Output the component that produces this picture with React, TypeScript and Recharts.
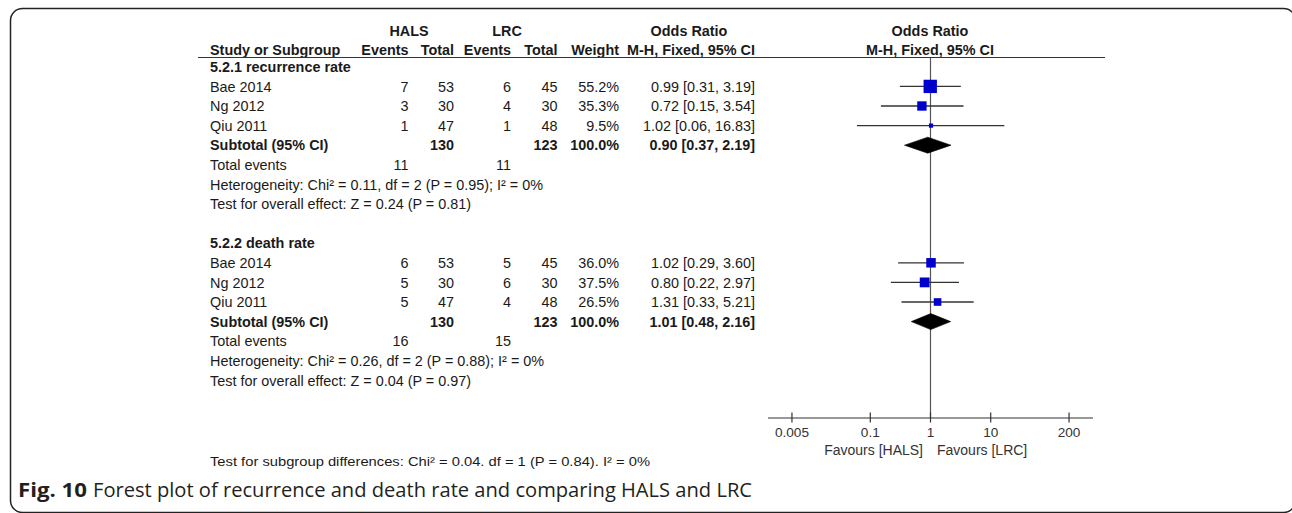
import React from 'react';
import { ComposedChart, Scatter, XAxis, YAxis } from 'recharts';

// study rows (same three studies in both subgroups)
const studyNames = ['Bae 2014', 'Ng 2012', 'Qiu 2011'];
const subgroupTitles = ['5.2.1 recurrence rate', '5.2.2 death rate'];

// 5.2.1 recurrence rate
const recHalsEvents = [7, 3, 1];
const recHalsTotal = [53, 30, 47];
const recLrcEvents = [6, 4, 1];
const recLrcTotal = [45, 30, 48];
const recWeight = [55.2, 35.3, 9.5];
const recOR = [0.99, 0.72, 1.02];
const recLow = [0.31, 0.15, 0.06];
const recHigh = [3.19, 3.54, 16.83];

// 5.2.2 death rate
const deathHalsEvents = [6, 5, 5];
const deathHalsTotal = [53, 30, 47];
const deathLrcEvents = [5, 6, 4];
const deathLrcTotal = [45, 30, 48];
const deathWeight = [36.0, 37.5, 26.5];
const deathOR = [1.02, 0.8, 1.31];
const deathLow = [0.29, 0.22, 0.33];
const deathHigh = [3.6, 2.97, 5.21];

// subtotals, one entry per subgroup
const subtotalHalsTotal = [130, 130];
const subtotalLrcTotal = [123, 123];
const subtotalOR = [0.9, 1.01];
const subtotalLow = [0.37, 0.48];
const subtotalHigh = [2.19, 2.16];
const totalHalsEvents = [11, 16];
const totalLrcEvents = [11, 15];
const heterogeneityText = [
  'Heterogeneity: Chi² = 0.11, df = 2 (P = 0.95); I² = 0%',
  'Heterogeneity: Chi² = 0.26, df = 2 (P = 0.88); I² = 0%',
];
const overallEffectText = [
  'Test for overall effect: Z = 0.24 (P = 0.81)',
  'Test for overall effect: Z = 0.04 (P = 0.97)',
];
const subgroupDiffText = 'Test for subgroup differences: Chi² = 0.04. df = 1 (P = 0.84). I² = 0%';

const axisTicks = [0.005, 0.1, 1, 10, 200];
const tickLabels = ['0.005', '0.1', '1', '10', '200'];

// layout
const W = 1292;
const H = 513;
const ROW0 = 66.8;
const ROW_H = 19.6;
const PLOT_TOP = 57;
const PLOT_BOTTOM = 418;
const PLOT_LEFT = 768;
const PLOT_RIGHT = 1093;
const X_AXIS_H = 40;
const yDomain = [(PLOT_TOP - ROW0) / ROW_H, (PLOT_BOTTOM - ROW0) / ROW_H];
const rowY = (r: number) => ROW0 + ROW_H * r;

const FONT = "'Liberation Sans', Arial, sans-serif";
const FS = 14.4;
const TEXT = '#1a1a1a';

// column right edges
const COL_STUDY = 210;
const COL_HE = 408.5;
const COL_HT = 454;
const COL_LE = 511;
const COL_LT = 557.5;
const COL_W = 619;
const COL_CI = 755;

const groups = [
  {
    title: subgroupTitles[0], start: 0,
    hE: recHalsEvents, hT: recHalsTotal, lE: recLrcEvents, lT: recLrcTotal,
    w: recWeight, or: recOR, lo: recLow, hi: recHigh,
  },
  {
    title: subgroupTitles[1], start: 9,
    hE: deathHalsEvents, hT: deathHalsTotal, lE: deathLrcEvents, lT: deathLrcTotal,
    w: deathWeight, or: deathOR, lo: deathLow, hi: deathHigh,
  },
];

const ci = (o: number, l: number, h: number) => `${o.toFixed(2)} [${l.toFixed(2)}, ${h.toFixed(2)}]`;

const studyPoints = groups.flatMap((g) =>
  g.or.map((o, i) => ({ x: o, y: g.start + 1 + i, side: 2.3 + 0.2 * g.w[i], lo: g.lo[i], hi: g.hi[i] })),
);

const DIAMOND_HALF = 8 / ROW_H;
const diamonds = groups.map((g, gi) => {
  const r = g.start + 4;
  return [
    { x: subtotalLow[gi], y: r },
    { x: subtotalOR[gi], y: r - DIAMOND_HALF },
    { x: subtotalHigh[gi], y: r },
    { x: subtotalOR[gi], y: r + DIAMOND_HALF },
  ];
});

const noShape = () => <g />;

const SquareShape = (props: any) => {
  const { cx, cy, payload } = props;
  const s = payload.side;
  return <rect x={cx - s / 2} y={cy - s / 2} width={s} height={s} fill="#0000CC" />;
};

const DiamondLine = (props: any) => {
  const pts = (props.points || []).map((p: any) => `${p.x},${p.y}`).join(' ');
  return <polygon points={pts} fill="#000" stroke="#000" strokeWidth={0.6} />;
};

const AxisTick = (props: any) => {
  const { x, y, payload, index } = props;
  return (
    <g>
      <line x1={x} x2={x} y1={y - 5.5} y2={y + 4.5} stroke="#333" strokeWidth={1.2} />
      <text x={x} y={y + 18.5} textAnchor="middle" fontSize={13.6} fill="#333" fontFamily={FONT}>
        {tickLabels[index] ?? String(payload.value)}
      </text>
    </g>
  );
};

function Table() {
  const t = (x: number, y: number, s: string | number, opts: any = {}) => (
    <text
      x={x}
      y={y + 5.1}
      fontSize={FS}
      fontFamily={FONT}
      fill={TEXT}
      textAnchor={opts.anchor || 'end'}
      fontWeight={opts.bold ? 'bold' : 'normal'}
    >
      {s}
    </text>
  );
  return (
    <g>
      {/* header */}
      {t(409, 31.2, 'HALS', { anchor: 'middle', bold: true })}
      {t(507, 31.2, 'LRC', { anchor: 'middle', bold: true })}
      {t(689, 31.2, 'Odds Ratio', { anchor: 'middle', bold: true })}
      {t(930, 31.2, 'Odds Ratio', { anchor: 'middle', bold: true })}
      {t(COL_STUDY, 50, 'Study or Subgroup', { anchor: 'start', bold: true })}
      {t(COL_HE, 50, 'Events', { bold: true })}
      {t(COL_HT, 50, 'Total', { bold: true })}
      {t(COL_LE, 50, 'Events', { bold: true })}
      {t(COL_LT, 50, 'Total', { bold: true })}
      {t(COL_W, 50, 'Weight', { bold: true })}
      {t(COL_CI, 50, 'M-H, Fixed, 95% CI', { bold: true })}
      {t(930, 50, 'M-H, Fixed, 95% CI', { anchor: 'middle', bold: true })}
      <line x1={198} x2={1105} y1={57.5} y2={57.5} stroke="#333" strokeWidth={1.2} />

      {groups.map((g, gi) => (
        <g key={gi}>
          {t(COL_STUDY, rowY(g.start), g.title, { anchor: 'start', bold: true })}
          {studyNames.map((name, i) => {
            const y = rowY(g.start + 1 + i);
            return (
              <g key={name}>
                {t(COL_STUDY, y, name, { anchor: 'start' })}
                {t(COL_HE, y, g.hE[i])}
                {t(COL_HT, y, g.hT[i])}
                {t(COL_LE, y, g.lE[i])}
                {t(COL_LT, y, g.lT[i])}
                {t(COL_W, y, `${g.w[i].toFixed(1)}%`)}
                {t(COL_CI, y, ci(g.or[i], g.lo[i], g.hi[i]))}
              </g>
            );
          })}
          {t(COL_STUDY, rowY(g.start + 4), 'Subtotal (95% CI)', { anchor: 'start', bold: true })}
          {t(COL_HT, rowY(g.start + 4), subtotalHalsTotal[gi], { bold: true })}
          {t(COL_LT, rowY(g.start + 4), subtotalLrcTotal[gi], { bold: true })}
          {t(COL_W, rowY(g.start + 4), '100.0%', { bold: true })}
          {t(COL_CI, rowY(g.start + 4), ci(subtotalOR[gi], subtotalLow[gi], subtotalHigh[gi]), { bold: true })}
          {t(COL_STUDY, rowY(g.start + 5), 'Total events', { anchor: 'start' })}
          {t(COL_HE, rowY(g.start + 5), totalHalsEvents[gi])}
          {t(COL_LE, rowY(g.start + 5), totalLrcEvents[gi])}
          {t(COL_STUDY, rowY(g.start + 6), heterogeneityText[gi], { anchor: 'start' })}
          {t(COL_STUDY, rowY(g.start + 7), overallEffectText[gi], { anchor: 'start' })}
        </g>
      ))}

      <text x={210} y={466.4} fontSize={13} fontFamily={FONT} fill={TEXT} textLength={440} lengthAdjust="spacingAndGlyphs">
        {subgroupDiffText}
      </text>

      <text x={923} y={455} fontSize={14} fontFamily={FONT} fill="#333" textAnchor="end">
        Favours [HALS]
      </text>
      <text x={937} y={455} fontSize={14} fontFamily={FONT} fill="#333">
        Favours [LRC]
      </text>
    </g>
  );
}

export default function App() {
  return (
    <div style={{ position: 'absolute', left: 0, top: 0, width: W, height: H, background: '#fff' }}>
      <ComposedChart
        width={W}
        height={H}
        margin={{ top: PLOT_TOP, right: W - PLOT_RIGHT, bottom: H - PLOT_BOTTOM - X_AXIS_H, left: PLOT_LEFT }}
      >
        <XAxis
          type="number"
          dataKey="x"
          scale="log"
          domain={[0.002, 500]}
          allowDataOverflow
          ticks={axisTicks}
          interval={0}
          height={X_AXIS_H}
          tickSize={0}
          tickMargin={0}
          tickLine={false}
          axisLine={{ stroke: '#333', strokeWidth: 1.2 }}
          tick={AxisTick}
        />
        <YAxis type="number" dataKey="y" domain={yDomain} reversed hide allowDataOverflow />

        {/* line of no effect */}
        <Scatter
          data={[{ x: 1, y: yDomain[0] }, { x: 1, y: yDomain[1] }]}
          fill="#555"
          line={{ stroke: '#555', strokeWidth: 1.2 }}
          shape={noShape}
          isAnimationActive={false}
        />

        {/* confidence intervals */}
        {studyPoints.map((p, i) => (
          <Scatter
            key={`ci-${i}`}
            data={[{ x: p.lo, y: p.y }, { x: p.hi, y: p.y }]}
            fill="#333"
            line={{ stroke: '#333', strokeWidth: 1.3 }}
            shape={noShape}
            isAnimationActive={false}
          />
        ))}

        {/* study weights */}
        <Scatter data={studyPoints} shape={SquareShape} fill="#0000CC" isAnimationActive={false} />

        {/* pooled estimates */}
        {diamonds.map((d, i) => (
          <Scatter key={`dia-${i}`} data={d} fill="#000" line={DiamondLine} shape={noShape} isAnimationActive={false} />
        ))}
      </ComposedChart>

      <svg width={W} height={H} style={{ position: 'absolute', left: 0, top: 0, pointerEvents: 'none' }}>
        <rect x={10.5} y={8.5} width={1285} height={504} rx={12} fill="none" stroke="#222" strokeWidth={1.5} />
        <Table />
        <text
          x={18}
          y={497}
          fontSize={20}
          fontWeight="bold"
          fontFamily="'Open Sans', 'Noto Sans', sans-serif"
          fill="#231f20"
          textLength={69}
          lengthAdjust="spacingAndGlyphs"
        >
          Fig. 10
        </text>
        <text
          x={93}
          y={497}
          fontSize={20}
          fontFamily="'Open Sans', 'Noto Sans', sans-serif"
          fill="#231f20"
          textLength={659}
          lengthAdjust="spacingAndGlyphs"
        >
          Forest plot of recurrence and death rate and comparing HALS and LRC
        </text>
      </svg>
    </div>
  );
}
